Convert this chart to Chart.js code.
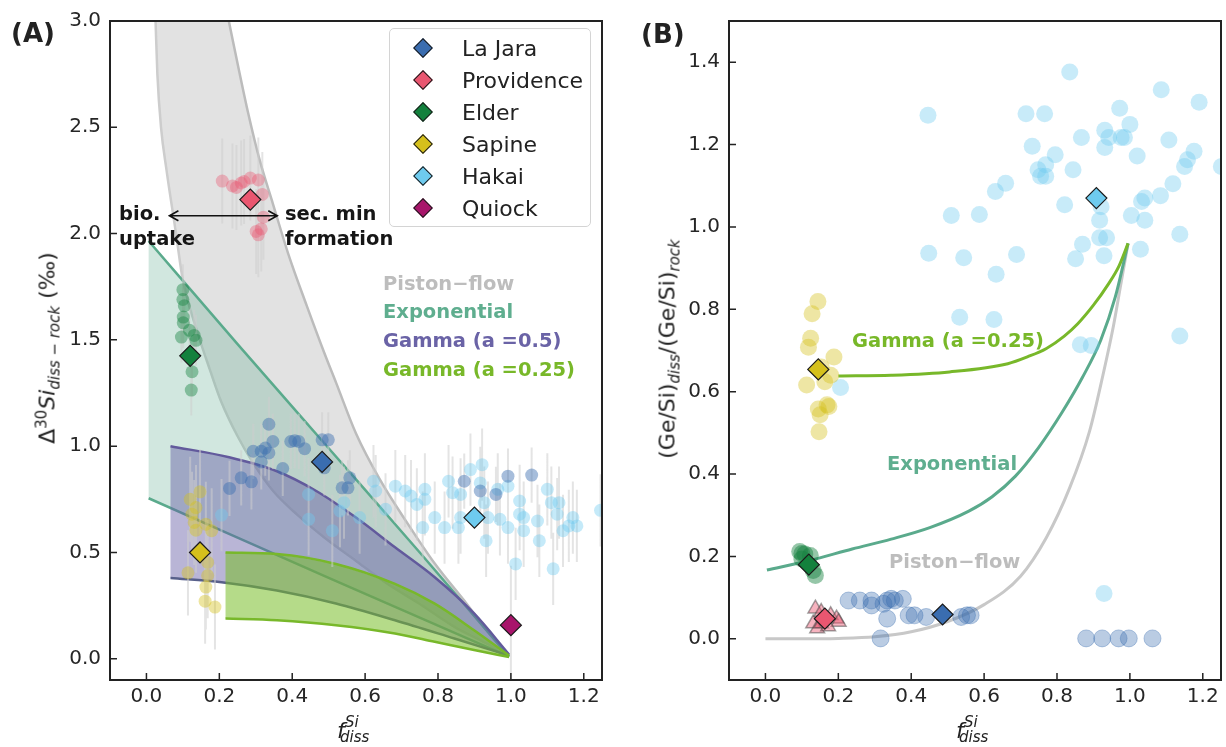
<!DOCTYPE html>
<html>
<head>
<meta charset="utf-8">
<script src="https://cdn.jsdelivr.net/npm/chart.js@4.4.1/dist/chart.umd.min.js"></script>
<style>
  html, body { margin: 0; padding: 0; background: #fff; }
  #fig { position: relative; width: 1226px; height: 747px; overflow: hidden; font-family: "DejaVu Sans", sans-serif; color: #222; }
  canvas { position: absolute; top: 0; }
  .lbl { position: absolute; white-space: nowrap; line-height: normal; transform: translateY(-50%); }
  .bold { font-weight: bold; }
  .model { font-weight: bold; font-size: 19.5px; }
  .panel { font-weight: bold; font-size: 26px; }
  .note { position: absolute; font-weight: bold; font-size: 19.5px; line-height: 25px; white-space: nowrap; color: #161616; }
  .ytitle { position: absolute; white-space: nowrap; font-size: 22px; line-height: normal; transform: translate(-50%, -50%) rotate(-90deg); }
  .ytitle sub, .ytitle sup { font-size: 15px; line-height: 0; }
  .xtitle { position: absolute; width: 40px; height: 34px; }
  .xtitle span { position: absolute; font-style: italic; line-height: 1; }
  .xtitle .f { font-size: 22px; left: 0; top: 0; }
  .xtitle .sup { font-size: 15px; left: 8px; top: -5px; }
  .xtitle .sub { font-size: 15px; left: 3px; top: 10px; }
  #legend { position: absolute; left: 389px; top: 28px; width: 200px; height: 197px; border: 1.5px solid #d4d4d4; border-radius: 5px; background: rgba(255,255,255,0.85); }
  #legend .row { position: absolute; left: 0; height: 30px; width: 200px; }
  #legend .dia { position: absolute; left: 26px; top: 8px; width: 14px; height: 14px; box-sizing: border-box; border: 1.5px solid #1a1a1a; transform: rotate(45deg); }
  #legend .txt { position: absolute; left: 72px; top: 15px; font-size: 22px; line-height: normal; transform: translateY(-50%); white-space: nowrap; }
</style>
</head>
<body>
<div id="fig">
  <canvas id="chartA" width="613" height="747" style="left:0"></canvas>
  <canvas id="chartB" width="613" height="747" style="left:613px"></canvas>

  <div class="lbl panel" style="left:11px; top:33px">(A)</div>
  <div class="lbl panel" style="left:641px; top:34px">(B)</div>

  <div class="ytitle" style="left:47px; top:348px">Δ<sup>30</sup><i>Si</i><sub><i>diss − rock</i></sub> (‰)</div>
  <div class="ytitle" style="left:667px; top:349px">(Ge/Si)<sub><i>diss</i></sub>/(Ge/Si)<sub><i>rock</i></sub></div>

  <div class="xtitle" style="left:337px; top:720px"><span class="f">f</span><span class="sup">Si</span><span class="sub">diss</span></div>
  <div class="xtitle" style="left:956px; top:720px"><span class="f">f</span><span class="sup">Si</span><span class="sub">diss</span></div>

  <div class="note" style="left:119px; top:201px">bio.<br>uptake</div>
  <div class="note" style="left:285px; top:201px">sec. min<br>formation</div>

  <div class="lbl model" style="left:383px; top:283px; color:#bdbdbd">Piston−flow</div>
  <div class="lbl model" style="left:383px; top:311px; color:#5fae8f">Exponential</div>
  <div class="lbl model" style="left:383px; top:340px; color:#6a63a6">Gamma (a =0.5)</div>
  <div class="lbl model" style="left:383px; top:369px; color:#78b829">Gamma (a =0.25)</div>

  <div class="lbl model" style="left:852px; top:340px; color:#78b829">Gamma (a =0.25)</div>
  <div class="lbl model" style="left:887px; top:463px; color:#5fae8f">Exponential</div>
  <div class="lbl model" style="left:889px; top:561px; color:#bdbdbd">Piston−flow</div>

  <div id="legend"></div>
</div>

<script>
// ---- ticks ----
const xTickVals = [0, 0.2, 0.4, 0.6, 0.8, 1.0, 1.2];
const yTickValsA = [0, 0.5, 1.0, 1.5, 2.0, 2.5, 3.0];
const yTickValsB = [0, 0.2, 0.4, 0.6, 0.8, 1.0, 1.2, 1.4];

// ---- sites ----
const siteNames = ["La Jara", "Providence", "Elder", "Sapine", "Hakai", "Quiock"];
const siteColors = ["#3a6db0", "#ea5670", "#13813d", "#d5c01c", "#6ecbef", "#a8156b"];

// ---- panel A : model envelopes (f_diss, Δ30Si) ----
const pistonOuterA = [[0.226,3.0],[0.25,2.80],[0.28,2.56],[0.31,2.35],[0.347,2.14],[0.39,1.90],[0.44,1.66],[0.49,1.43],[0.52,1.30],[0.575,1.06],[0.64,0.845],[0.715,0.64],[0.79,0.45],[0.878,0.26],[0.94,0.12],[0.975,0.05],[0.995,0.01]];
const pistonInnerA = [[0.025,3.0],[0.03,2.75],[0.04,2.5],[0.055,2.30],[0.082,1.99],[0.099,1.79],[0.141,1.53],[0.174,1.36],[0.205,1.21],[0.249,1.05],[0.293,0.92],[0.347,0.79],[0.412,0.68],[0.488,0.57],[0.575,0.46],[0.66,0.354],[0.748,0.26],[0.845,0.15],[0.932,0.073],[0.995,0.01]];
const expUpperA = [[0.006,1.965],[0.25,1.48],[0.5,0.99],[0.75,0.50],[0.995,0.01]];
const expLowerA = [[0.006,0.755],[0.5,0.38],[0.995,0.01]];
const gamma05UpperA = [[0.066,1.0],[0.227,0.948],[0.358,0.882],[0.466,0.789],[0.575,0.664],[0.682,0.524],[0.791,0.383],[0.899,0.213],[0.995,0.02]];
const gamma05LowerA = [[0.066,0.38],[0.206,0.36],[0.358,0.321],[0.52,0.26],[0.682,0.181],[0.845,0.095],[0.995,0.015]];
const gamma025UpperA = [[0.217,0.50],[0.358,0.493],[0.52,0.446],[0.682,0.352],[0.791,0.259],[0.899,0.134],[0.995,0.015]];
const gamma025LowerA = [[0.217,0.189],[0.358,0.181],[0.52,0.158],[0.682,0.119],[0.791,0.08],[0.899,0.041],[0.995,0.008]];

// ---- panel A : samples ----
const laJaraA = [[0.336,1.103],[0.293,0.976],[0.315,0.976],[0.326,0.991],[0.336,0.968],[0.347,1.022],[0.396,1.022],[0.407,1.026],[0.418,1.022],[0.434,0.988],[0.482,1.03],[0.499,1.03],[0.374,0.895],[0.315,0.926],[0.26,0.851],[0.228,0.801],[0.288,0.832],[0.488,0.898],[0.558,0.851],[0.537,0.804],[0.553,0.804],[0.872,0.835],[0.916,0.789],[0.959,0.773],[0.992,0.859],[1.057,0.864]];
const providenceA = [[0.208,2.247],[0.236,2.224],[0.26,2.238],[0.285,2.261],[0.307,2.252],[0.247,2.217],[0.268,2.245],[0.318,2.184],[0.321,2.077],[0.315,2.022],[0.307,1.994],[0.301,2.01]];
const elderA = [[0.10,1.736],[0.10,1.69],[0.104,1.66],[0.101,1.607],[0.101,1.58],[0.118,1.545],[0.131,1.521],[0.096,1.513],[0.136,1.498],[0.125,1.35],[0.123,1.264]];
const sapineA = [[0.12,0.75],[0.147,0.785],[0.136,0.711],[0.125,0.68],[0.131,0.641],[0.163,0.633],[0.179,0.602],[0.136,0.605],[0.168,0.453],[0.114,0.404],[0.168,0.391],[0.163,0.337],[0.161,0.271],[0.188,0.243]];
const hakaiA = [[0.206,0.676],[0.445,0.773],[0.445,0.656],[0.51,0.602],[0.531,0.695],[0.542,0.734],[0.585,0.664],[0.623,0.835],[0.629,0.789],[0.656,0.703],[0.683,0.812],[0.71,0.789],[0.726,0.765],[0.742,0.726],[0.764,0.797],[0.764,0.75],[0.758,0.617],[0.791,0.664],[0.818,0.617],[0.829,0.835],[0.84,0.781],[0.856,0.617],[0.862,0.664],[0.862,0.773],[0.889,0.89],[0.916,0.827],[0.921,0.913],[0.927,0.734],[0.932,0.555],[0.937,0.664],[0.97,0.656],[0.964,0.797],[0.992,0.812],[0.992,0.617],[1.013,0.446],[1.024,0.742],[1.024,0.68],[1.035,0.664],[1.035,0.602],[1.073,0.648],[1.078,0.555],[1.1,0.797],[1.111,0.734],[1.127,0.68],[1.132,0.734],[1.116,0.423],[1.143,0.602],[1.159,0.625],[1.17,0.664],[1.181,0.625],[1.246,0.698]];
const meansA = [[0.482,0.926],[0.285,2.16],[0.12,1.425],[0.147,0.50],[0.90,0.664],[1.0,0.158]];
const errA = [0.13, 0.2, 0.12, 0.2, 0.17, 0.28];   // half-length of the grey error bars
const arrowA = [[0.063,2.084],[0.359,2.084]];

// ---- panel B : model curves (f_diss, Ge/Si ratio) ----
const pistonB = [[0,0],[0.1,0],[0.2,0.001],[0.3,0.005],[0.4,0.017],[0.5,0.042],[0.6,0.083],[0.7,0.152],[0.771,0.246],[0.835,0.367],[0.889,0.503],[0.926,0.64],[0.955,0.76],[0.975,0.86],[0.995,0.96]];
const expB = [[0.004,0.167],[0.121,0.19],[0.238,0.218],[0.345,0.242],[0.451,0.27],[0.558,0.31],[0.622,0.345],[0.686,0.395],[0.75,0.465],[0.814,0.55],[0.87,0.635],[0.92,0.725],[0.96,0.83],[0.995,0.96]];
const gamma025B = [[0.2,0.638],[0.345,0.64],[0.505,0.648],[0.665,0.668],[0.72,0.685],[0.771,0.705],[0.82,0.735],[0.857,0.765],[0.9,0.81],[0.94,0.86],[0.97,0.905],[0.995,0.96]];

// ---- panel B : samples ----
const laJaraB = [[0.228,0.093],[0.259,0.093],[0.291,0.093],[0.291,0.081],[0.324,0.085],[0.334,0.093],[0.345,0.097],[0.355,0.093],[0.377,0.097],[0.334,0.049],[0.393,0.057],[0.409,0.057],[0.441,0.053],[0.537,0.053],[0.553,0.057],[0.563,0.057],[0.316,0.001],[0.88,0.001],[0.924,0.001],[0.969,0.001],[0.997,0.001],[1.062,0.001]];
const providenceB = [[0.137,0.073],[0.153,0.065],[0.179,0.057],[0.195,0.049],[0.201,0.041],[0.131,0.037],[0.142,0.025],[0.153,0.037],[0.172,0.03]];
const elderB = [[0.094,0.212],[0.1,0.207],[0.108,0.206],[0.123,0.202],[0.1,0.194],[0.137,0.154],[0.131,0.166]];
const sapineB = [[0.144,0.819],[0.128,0.789],[0.124,0.73],[0.118,0.708],[0.188,0.684],[0.113,0.616],[0.163,0.624],[0.174,0.564],[0.169,0.568],[0.145,0.558],[0.15,0.544],[0.147,0.503],[0.153,0.66],[0.179,0.64]];
const hakaiB = [[0.446,1.271],[0.715,1.275],[0.766,1.275],[0.835,1.376],[1.086,1.333],[1.19,1.303],[0.972,1.288],[1.0,1.249],[0.931,1.235],[0.942,1.217],[0.976,1.217],[0.985,1.217],[0.867,1.217],[1.107,1.211],[0.732,1.196],[0.931,1.193],[0.795,1.175],[1.02,1.172],[1.176,1.184],[1.158,1.163],[1.15,1.147],[1.251,1.147],[0.748,1.139],[0.769,1.151],[0.755,1.123],[0.769,1.123],[0.844,1.139],[0.659,1.106],[0.631,1.086],[1.118,1.105],[1.032,1.062],[1.041,1.07],[1.084,1.076],[0.821,1.054],[0.921,1.049],[0.51,1.028],[0.587,1.03],[1.004,1.028],[1.041,1.016],[0.917,1.016],[1.137,0.982],[0.917,0.974],[0.936,0.974],[0.87,0.958],[1.029,0.946],[0.448,0.936],[0.544,0.925],[0.689,0.933],[0.851,0.923],[0.929,0.93],[0.633,0.885],[0.533,0.781],[0.627,0.775],[1.137,0.735],[0.864,0.714],[0.894,0.712],[0.206,0.61],[0.929,0.11]];
const meansB = [[0.486,0.059],[0.163,0.049],[0.119,0.18],[0.145,0.654],[0.908,1.07]];

// ---------- helpers ----------
const pts = arr => arr.map(([x, y]) => ({ x, y }));
function fade(hex, a) {
  const n = parseInt(hex.slice(1), 16);
  return `rgba(${n >> 16}, ${(n >> 8) & 255}, ${n & 255}, ${a})`;
}
function cloud(data, color, r, order, extra = {}) {
  return Object.assign({ data: pts(data), backgroundColor: color, borderWidth: 0, pointRadius: r, pointHoverRadius: r, order, clip: 0 }, extra);
}
function curve(data, color, w, order) {
  return { data: pts(data), showLine: true, borderColor: color, borderWidth: w, pointRadius: 0, cubicInterpolationMode: "monotone", fill: false, order, clip: 0 };
}
function band(upper, lower, color, order) {
  return { data: pts([...upper, ...lower.slice().reverse()]), showLine: true, borderWidth: 0, borderColor: "transparent", pointRadius: 0, fill: "shape", backgroundColor: color, order, clip: 0 };
}
function mean(p, i, extra = {}) {
  return Object.assign({ data: pts([p]), pointStyle: "rectRot", pointRadius: 10.5, pointHoverRadius: 10.5, backgroundColor: siteColors[i], borderColor: "#1a1a1a", borderWidth: 1.2, order: 1, clip: 0 }, extra);
}
function axis(vals, min, max, size, isX) {
  return {
    type: "linear", min, max,
    grid: { display: false, drawTicks: false },
    border: { display: false },
    ticks: { color: "#262626", font: { size: 20 }, padding: isX ? 5 : 9, autoSkip: false, maxRotation: 0, includeBounds: false, callback: v => v.toFixed(1) },
    afterBuildTicks: s => { s.ticks = vals.map(v => ({ value: v })); },
    afterFit: s => { if (isX) s.height = size; else s.width = size; }
  };
}

// frame + inward ticks, like the matplotlib axes box
const framePlugin = {
  id: "frame",
  afterDatasetsDraw(chart) {
    const { ctx, chartArea: a, scales: { x, y } } = chart;
    ctx.save();
    ctx.strokeStyle = "#222";
    ctx.lineWidth = 1.5;
    ctx.beginPath();
    x.ticks.forEach(t => { const px = x.getPixelForValue(t.value); ctx.moveTo(px, a.bottom); ctx.lineTo(px, a.bottom - 7); });
    y.ticks.forEach(t => { const py = y.getPixelForValue(t.value); ctx.moveTo(a.left, py); ctx.lineTo(a.left + 7, py); });
    ctx.stroke();
    ctx.lineWidth = 2;
    ctx.strokeRect(a.left, a.top, a.right - a.left, a.bottom - a.top);
    ctx.restore();
  }
};

// grey vertical error bars, drawn just before the first sample cloud
const errorBarPlugin = {
  id: "errorBars",
  beforeDatasetDraw(chart, args) {
    if (!chart.data.datasets[args.index].barsHere) return;
    const { ctx, chartArea: a, scales: { x, y } } = chart;
    ctx.save();
    ctx.beginPath();
    ctx.rect(a.left, a.top, a.right - a.left, a.bottom - a.top);
    ctx.clip();
    ctx.strokeStyle = "rgba(205, 205, 205, 0.55)";
    ctx.lineWidth = 2;
    ctx.beginPath();
    chart.data.datasets.forEach(d => {
      if (d.yErr === undefined) return;
      d.data.forEach(p => {
        const px = x.getPixelForValue(p.x);
        ctx.moveTo(px, y.getPixelForValue(p.y - d.yErr));
        ctx.lineTo(px, y.getPixelForValue(p.y + d.yErr));
      });
    });
    ctx.stroke();
    ctx.restore();
  }
};

const arrowPlugin = {
  id: "arrow",
  afterDatasetsDraw(chart, args, o) {
    if (!o.from) return;
    const { ctx, scales: { x, y } } = chart;
    const x0 = x.getPixelForValue(o.from[0]);
    const x1 = x.getPixelForValue(o.to[0]);
    const py = y.getPixelForValue(o.from[1]);
    ctx.save();
    ctx.strokeStyle = "#111";
    ctx.lineWidth = 1.6;
    ctx.beginPath();
    ctx.moveTo(x0, py);
    ctx.lineTo(x1, py);
    [[x0, 1], [x1, -1]].forEach(([px, d]) => {
      ctx.moveTo(px + 9 * d, py - 5);
      ctx.lineTo(px, py);
      ctx.lineTo(px + 9 * d, py + 5);
    });
    ctx.stroke();
    ctx.restore();
  }
};

Chart.defaults.font.family = "'DejaVu Sans', sans-serif";
Chart.defaults.animation = false;

function baseOptions(yVals, yMin, yMax, yWidth, padRight) {
  return {
    responsive: false,
    animation: false,
    layout: { autoPadding: false, padding: { left: 0, right: padRight, top: 17, bottom: 0 } },
    plugins: { legend: { display: false }, tooltip: { enabled: false } },
    scales: {
      x: axis(xTickVals, -0.1, 1.25, 67, true),
      y: axis(yVals, yMin, yMax, yWidth, false)
    }
  };
}

// ---------- panel A ----------
const optsA = baseOptions(yTickValsA, -0.1, 3.0, 110, 11);
optsA.plugins.arrow = { from: arrowA[0], to: arrowA[1] };

new Chart(document.getElementById("chartA"), {
  type: "scatter",
  data: {
    datasets: [
      band(pistonOuterA, pistonInnerA, "rgba(150, 150, 150, 0.28)", 61),
      curve(pistonOuterA, "#bcbcbc", 2.5, 60),
      curve(pistonInnerA, "#cdcdcd", 2.5, 60),
      band(expUpperA, expLowerA, "rgba(90, 170, 140, 0.28)", 51),
      curve(expUpperA, "#5aaa8c", 2.5, 50),
      curve(expLowerA, "#5aaa8c", 2.5, 50),
      band(gamma05UpperA, gamma05LowerA, "rgba(100, 90, 165, 0.45)", 41),
      curve(gamma05UpperA, "#625a9c", 2.5, 40),
      curve(gamma05LowerA, "#58608a", 2.5, 40),
      band(gamma025UpperA, gamma025LowerA, "rgba(120, 190, 40, 0.55)", 31),
      curve(gamma025UpperA, "#78b82a", 2.5, 30),
      curve(gamma025LowerA, "#78b82a", 2.5, 30),
      cloud(hakaiA, fade(siteColors[4], 0.4), 6.5, 16, { yErr: errA[4], barsHere: true }),
      cloud(laJaraA, fade(siteColors[0], 0.45), 6.5, 15, { yErr: errA[0] }),
      cloud(providenceA, fade(siteColors[1], 0.38), 6.5, 14, { yErr: errA[1] }),
      cloud(elderA, fade(siteColors[2], 0.42), 6.5, 13, { yErr: errA[2] }),
      cloud(sapineA, fade(siteColors[3], 0.42), 6.5, 12, { yErr: errA[3] }),
      ...meansA.map((p, i) => mean(p, i, i === 5 ? { yErr: errA[5] } : {}))
    ]
  },
  options: optsA,
  plugins: [errorBarPlugin, framePlugin, arrowPlugin]
});

// ---------- panel B ----------
new Chart(document.getElementById("chartB"), {
  type: "scatter",
  data: {
    datasets: [
      curve(pistonB, "#c8c8c8", 3, 40),
      curve(expB, "#5aaa8c", 3, 39),
      curve(gamma025B, "#78b82a", 3, 38),
      cloud(hakaiB, fade(siteColors[4], 0.38), 8.5, 16),
      cloud(laJaraB, fade(siteColors[0], 0.35), 8.5, 15, { borderWidth: 1, borderColor: fade(siteColors[0], 0.35) }),
      cloud(sapineB, fade(siteColors[3], 0.4), 8.5, 14),
      cloud(elderB, fade(siteColors[2], 0.45), 8.5, 13),
      cloud(providenceB, fade(siteColors[1], 0.45), 8.5, 12, { pointStyle: "triangle", borderWidth: 1.5, borderColor: "rgba(70, 70, 70, 0.5)" }),
      ...meansB.map((p, i) => mean(p, i))
    ]
  },
  options: baseOptions(yTickValsB, -0.1, 1.5, 116, 5),
  plugins: [framePlugin]
});

// ---------- legend (panel A) ----------
const legend = document.getElementById("legend");
siteNames.forEach((name, i) => {
  const row = document.createElement("div");
  row.className = "row";
  row.style.top = (4 + i * 32) + "px";
  row.innerHTML = `<div class="dia" style="background:${siteColors[i]}"></div><div class="txt">${name}</div>`;
  legend.appendChild(row);
});
</script>
</body>
</html>
